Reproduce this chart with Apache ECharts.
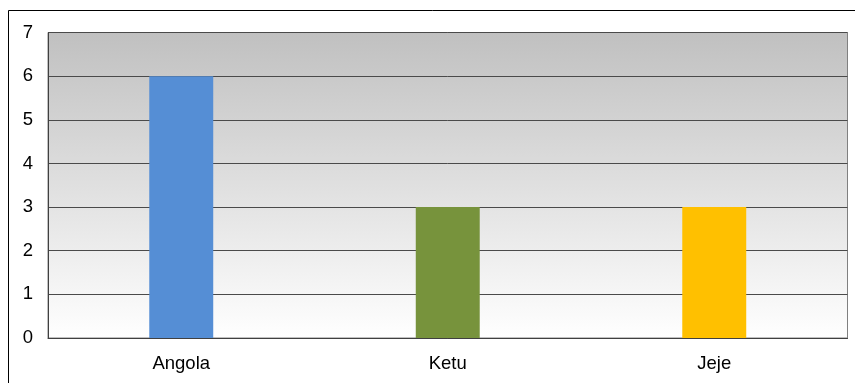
<!DOCTYPE html>
<html>
<head>
<meta charset="utf-8">
<script src="https://cdn.jsdelivr.net/npm/echarts@6/dist/echarts.min.js"></script>
<style>
  html, body { margin: 0; padding: 0; background: #ffffff; }
  #chart { width: 855px; height: 383px; }
</style>
</head>
<body>
<div id="chart"></div>
<script>
// Categories and values
const categories = ['Angola', 'Ketu', 'Jeje'];
const values = [6, 3, 3];
const barColors = ['#558ed5', '#77933c', '#ffc000'];
const yTicks = [0, 1, 2, 3, 4, 5, 6, 7];

const chart = echarts.init(document.getElementById('chart'), null, { renderer: 'canvas' });

chart.setOption({
  animation: false,
  backgroundColor: '#ffffff',
  graphic: [{
    type: 'rect',
    shape: { x: 8.5, y: 10.5, width: 900, height: 400 },
    style: { fill: 'none', stroke: '#000000', lineWidth: 1 },
    silent: true,
    z: -1
  }],
  grid: {
    left: 48, top: 32.5, right: 7.5, bottom: 45,
    show: true,
    borderColor: '#808080',
    borderWidth: 1,
    backgroundColor: {
      type: 'linear', x: 0, y: 0, x2: 0, y2: 1,
      colorStops: [
        { offset: 0, color: '#c0c0c0' },
        { offset: 1, color: '#ffffff' }
      ]
    }
  },
  xAxis: {
    type: 'category',
    data: categories,
    axisLine: { show: true, lineStyle: { color: '#404040', width: 1 } },
    axisTick: { show: false },
    axisLabel: {
      color: '#000000', fontFamily: 'Liberation Sans, Arial, sans-serif',
      fontSize: 18.5, margin: 16
    }
  },
  yAxis: {
    type: 'value',
    min: yTicks[0], max: yTicks[yTicks.length - 1], interval: 1,
    axisLine: { show: true, lineStyle: { color: '#404040', width: 1 } },
    axisTick: { show: false },
    splitLine: { show: true, lineStyle: { color: '#4a4a4a', width: 1 } },
    axisLabel: {
      color: '#000000', fontFamily: 'Liberation Sans, Arial, sans-serif',
      fontSize: 18.5, margin: 15
    }
  },
  series: [{
    type: 'bar',
    data: values.map((v, i) => ({ value: v, itemStyle: { color: barColors[i] } })),
    barWidth: '24%'
  }]
});
</script>
</body>
</html>
